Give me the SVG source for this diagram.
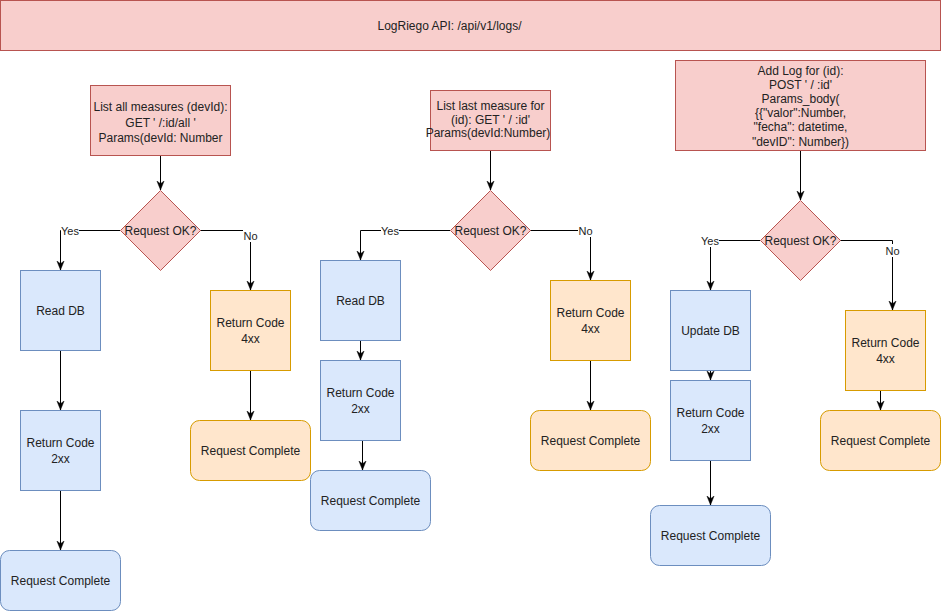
<svg xmlns="http://www.w3.org/2000/svg" width="941" height="611" viewBox="0 0 941 611">
<style>
text{font-family:"Liberation Sans",Arial,sans-serif;font-size:12px;fill:#222;text-anchor:middle}
.red{fill:#f8cecc;stroke:#b85450;stroke-width:1}
.blue{fill:#dae8fc;stroke:#6c8ebf;stroke-width:1}
.orange{fill:#ffe6cc;stroke:#d79b00;stroke-width:1}
.edge{fill:none;stroke:#000;stroke-width:1;marker-end:url(#arr)}
.lbl{font-size:11px}
.lblbg{fill:#fff}
</style>
<defs>
<marker id="arr" viewBox="0 0 10 10" refX="10" refY="5" markerWidth="9" markerHeight="9" markerUnits="userSpaceOnUse" orient="auto">
<path d="M0,1 L10,5 L0,9 L3,5 z" fill="#000" stroke="#000" stroke-width="0.5"/>
</marker>
</defs>
<rect width="941" height="611" fill="#fff"/>

<g id="title">
<rect class="red" x="0.5" y="0.5" width="940" height="50"/>
<text x="449.5" y="29.5">LogRiego API: /api/v1/logs/</text>
</g>

<g id="connectors">
<path class="edge" d="M160.5,155 V190"/>
<path class="edge" d="M120,230.5 H60.5 V270"/>
<path class="edge" d="M200,230.5 H250.5 V290"/>
<path class="edge" d="M60.5,350 V410"/>
<path class="edge" d="M60.5,490 V550"/>
<path class="edge" d="M250.5,370 V420"/>

<path class="edge" d="M490.5,150 V190"/>
<path class="edge" d="M450,230.5 H360.5 V260"/>
<path class="edge" d="M530,230.5 H590.5 V280"/>
<path class="edge" d="M360.5,340 V360"/>
<path class="edge" d="M362.5,440 V470"/>
<path class="edge" d="M590.5,360 V410"/>

<path class="edge" d="M800.5,150 V200"/>
<path class="edge" d="M760,240.5 H710.5 V290"/>
<path class="edge" d="M840,240.5 H892.5 V310"/>
<path class="edge" d="M710.5,370 V380"/>
<path class="edge" d="M710.5,460 V505"/>
<path class="edge" d="M880.5,390 V410"/>

<rect class="lblbg" x="61" y="224" width="18" height="13"/>
<text class="lbl" x="70" y="234.5">Yes</text>
<rect class="lblbg" x="243" y="229" width="15" height="13"/>
<text class="lbl" x="250.5" y="239.5">No</text>
<rect class="lblbg" x="381" y="224" width="18" height="13"/>
<text class="lbl" x="390" y="234.5">Yes</text>
<rect class="lblbg" x="578" y="224" width="15" height="13"/>
<text class="lbl" x="585.5" y="234.5">No</text>
<rect class="lblbg" x="701" y="234" width="18" height="13"/>
<text class="lbl" x="710" y="244.5">Yes</text>
<rect class="lblbg" x="885" y="244" width="15" height="13"/>
<text class="lbl" x="892.5" y="254.5">No</text>
</g>

<g id="n1-start">
<rect class="red" x="90.5" y="85.5" width="140" height="70"/>
<text x="160.5" y="111">List all measures (devId):</text>
<text x="160.5" y="126.5">GET ' /:id/all '</text>
<text x="160.5" y="142">Params(devId: Number</text>
</g>
<g id="n1-decision">
<path class="red" d="M160.5,190.5 L200.5,230.5 L160.5,270.5 L120.5,230.5 z"/>
<text x="160.5" y="234.5">Request OK?</text>
</g>
<g id="n1-readdb">
<rect class="blue" x="20.5" y="270.5" width="80" height="80"/>
<text x="60.5" y="314.5">Read DB</text>
</g>
<g id="n1-2xx">
<rect class="blue" x="20.5" y="410.5" width="80" height="80"/>
<text x="60.5" y="447">Return Code</text>
<text x="60.5" y="462.5">2xx</text>
</g>
<g id="n1-complete-ok">
<rect class="blue" x="0.5" y="550.5" width="120" height="60" rx="9"/>
<text x="60.5" y="584.5">Request Complete</text>
</g>
<g id="n1-4xx">
<rect class="orange" x="210.5" y="290.5" width="80" height="80"/>
<text x="250.5" y="327">Return Code</text>
<text x="250.5" y="342.5">4xx</text>
</g>
<g id="n1-complete-err">
<rect class="orange" x="190.5" y="420.5" width="120" height="60" rx="9"/>
<text x="250.5" y="454.5">Request Complete</text>
</g>

<g id="n2-start">
<rect class="red" x="430.5" y="90.5" width="120" height="60"/>
<text x="490.5" y="110">List last measure for</text>
<text x="490.5" y="123.5">(id): GET ' / :id'</text>
<text x="488" y="137">Params(devId:Number)</text>
</g>
<g id="n2-decision">
<path class="red" d="M490.5,190.5 L530.5,230.5 L490.5,270.5 L450.5,230.5 z"/>
<text x="490.5" y="234.5">Request OK?</text>
</g>
<g id="n2-readdb">
<rect class="blue" x="320.5" y="260.5" width="80" height="80"/>
<text x="360.5" y="304.5">Read DB</text>
</g>
<g id="n2-2xx">
<rect class="blue" x="320.5" y="360.5" width="80" height="80"/>
<text x="360.5" y="397">Return Code</text>
<text x="360.5" y="412.5">2xx</text>
</g>
<g id="n2-complete-ok">
<rect class="blue" x="310.5" y="470.5" width="120" height="60" rx="9"/>
<text x="370.5" y="504.5">Request Complete</text>
</g>
<g id="n2-4xx">
<rect class="orange" x="550.5" y="280.5" width="80" height="80"/>
<text x="590.5" y="317">Return Code</text>
<text x="590.5" y="332.5">4xx</text>
</g>
<g id="n2-complete-err">
<rect class="orange" x="530.5" y="410.5" width="120" height="60" rx="9"/>
<text x="590.5" y="444.5">Request Complete</text>
</g>

<g id="n3-start">
<rect class="red" x="675.5" y="60.5" width="250" height="90"/>
<text x="800.5" y="74.5">Add Log for (id):</text>
<text x="800.5" y="88.7">POST ' / :id'</text>
<text x="800.5" y="102.9">Params_body(</text>
<text x="800.5" y="117.1">{{"valor":Number,</text>
<text x="800.5" y="131.3">"fecha": datetime,</text>
<text x="800.5" y="145.5">"devID": Number})</text>
</g>
<g id="n3-decision">
<path class="red" d="M800.5,200.5 L840.5,240.5 L800.5,280.5 L760.5,240.5 z"/>
<text x="800.5" y="244.5">Request OK?</text>
</g>
<g id="n3-updatedb">
<rect class="blue" x="670.5" y="290.5" width="80" height="80"/>
<text x="710.5" y="334.5">Update DB</text>
</g>
<g id="n3-2xx">
<rect class="blue" x="670.5" y="380.5" width="80" height="80"/>
<text x="710.5" y="417">Return Code</text>
<text x="710.5" y="432.5">2xx</text>
</g>
<g id="n3-complete-ok">
<rect class="blue" x="650.5" y="505.5" width="120" height="60" rx="9"/>
<text x="710.5" y="539.5">Request Complete</text>
</g>
<g id="n3-4xx">
<rect class="orange" x="845.5" y="310.5" width="80" height="80"/>
<text x="885.5" y="347">Return Code</text>
<text x="885.5" y="362.5">4xx</text>
</g>
<g id="n3-complete-err">
<rect class="orange" x="820.5" y="410.5" width="120" height="60" rx="9"/>
<text x="880.5" y="444.5">Request Complete</text>
</g>
</svg>
